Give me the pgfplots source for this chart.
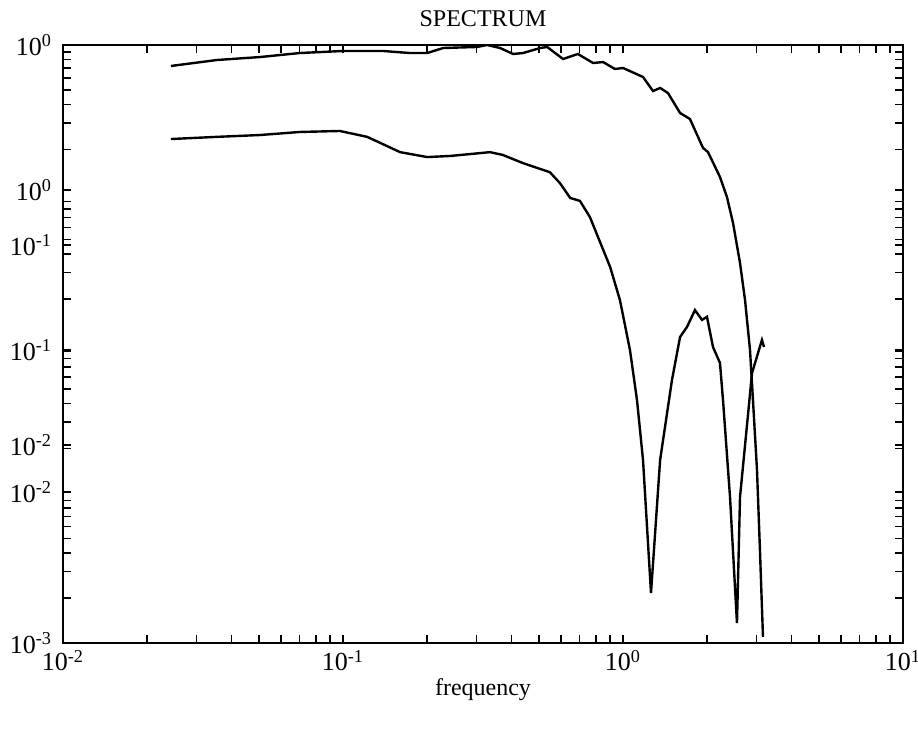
\documentclass[border=0pt]{standalone}
\usepackage{pgfplots}
\pgfplotsset{compat=1.18}
\usepackage{fontspec}
\setmainfont{Liberation Serif}
\newcommand{\sz}{\fontsize{12}{14}\selectfont}
\newcommand{\tz}{\fontsize{13}{15}\selectfont}
\begin{document}
\begin{tikzpicture}
\begin{axis}[
  scale only axis, width=420pt, height=299pt,
  xmode=log, ymode=log,
  xmin=0.01, xmax=10, ymin=0.001, ymax=10,
  xtick={0.01,0.1,1,10},
  xticklabels={10\textsuperscript{-2},10\textsuperscript{-1},10\textsuperscript{0},10\textsuperscript{1}},
  minor xtick={0.02,0.03,0.04,0.05,0.06,0.07,0.08,0.09,0.2,0.3,0.4,0.5,0.6,0.7,0.8,0.9,2,3,4,5,6,7,8,9},
  ytick={0.001,0.01023,0.0211,0.0912,0.459,1.07,10},
  yticklabels={10\textsuperscript{-3},10\textsuperscript{-2},10\textsuperscript{-2},10\textsuperscript{-1},10\textsuperscript{-1},10\textsuperscript{0},10\textsuperscript{0}},
  minor ytick={0.002,0.003,0.004,0.005,0.006,0.007,0.008,0.009,0.02,0.03,0.04,0.05,0.06,0.07,0.08,0.09,0.2,0.3,0.4,0.5,0.6,0.7,0.8,0.9,2,3,4,5,6,7,8,9},
  major tick length=4pt, minor tick length=4pt,
  tick style={line width=0.8pt, black},
  axis line style={line width=1pt},
  tick label style={font=\tz},
  xticklabel style={anchor=base, yshift=-14pt},
  yticklabel style={anchor=east, xshift=-2pt},
  title={SPECTRUM},
  title style={font=\sz, at={(0.5,1)}, anchor=base, yshift=3.5pt},
  xlabel={frequency},
  xlabel style={font=\sz, at={(0.5,0)}, anchor=base, yshift=-26.5pt},
]
\addplot[black, line width=1.2pt, no marks] coordinates {
(0.0243,7.24) (0.0355,7.94) (0.0506,8.31) (0.0702,8.84) (0.1,9.12) (0.139,9.12)
(0.173,8.84) (0.2,8.84) (0.228,9.55) (0.301,9.70) (0.327,10.0) (0.364,9.55)
(0.405,8.71) (0.440,8.84) (0.506,9.55) (0.536,9.70) (0.611,8.06) (0.690,8.71)
(0.782,7.58) (0.849,7.69) (0.936,6.91) (1.0,7.02) (1.179,6.11) (1.28,4.92)
(1.357,5.16) (1.448,4.77) (1.599,3.51) (1.734,3.20) (1.931,2.05) (2.012,1.92)
(2.220,1.31) (2.351,0.962) (2.472,0.644) (2.618,0.348) (2.728,0.197) (2.842,0.0912)
(2.912,0.0422) (3.010,0.01436) (3.084,0.00419) (3.162,0.001097)
};
\addplot[black, line width=1.2pt, no marks] coordinates {
(0.0243,2.35) (0.0355,2.43) (0.0506,2.50) (0.0702,2.62) (0.0975,2.66) (0.122,2.43)
(0.160,1.92) (0.2,1.78) (0.241,1.81) (0.335,1.92) (0.372,1.84) (0.44,1.62)
(0.548,1.41) (0.596,1.19) (0.648,0.948) (0.702,0.906) (0.762,0.706) (0.900,0.327)
(0.975,0.197) (1.059,0.0912) (1.122,0.0422) (1.179,0.01675) (1.259,0.00216)
(1.357,0.01675) (1.496,0.0574) (1.599,0.1114) (1.693,0.130) (1.807,0.1686)
(1.915,0.145) (1.995,0.152) (2.096,0.0955) (2.220,0.0747) (2.276,0.0422)
(2.411,0.00948) (2.553,0.00136) (2.618,0.00948) (2.890,0.064) (3.135,0.1064) (3.19,0.0955)
};
\end{axis}
\pgfresetboundingbox
\path ([xshift=-31.5pt, yshift=-44.5pt]current axis.south west) rectangle ([xshift=7.5pt, yshift=22.5pt]current axis.north east);
\end{tikzpicture}
\end{document}
